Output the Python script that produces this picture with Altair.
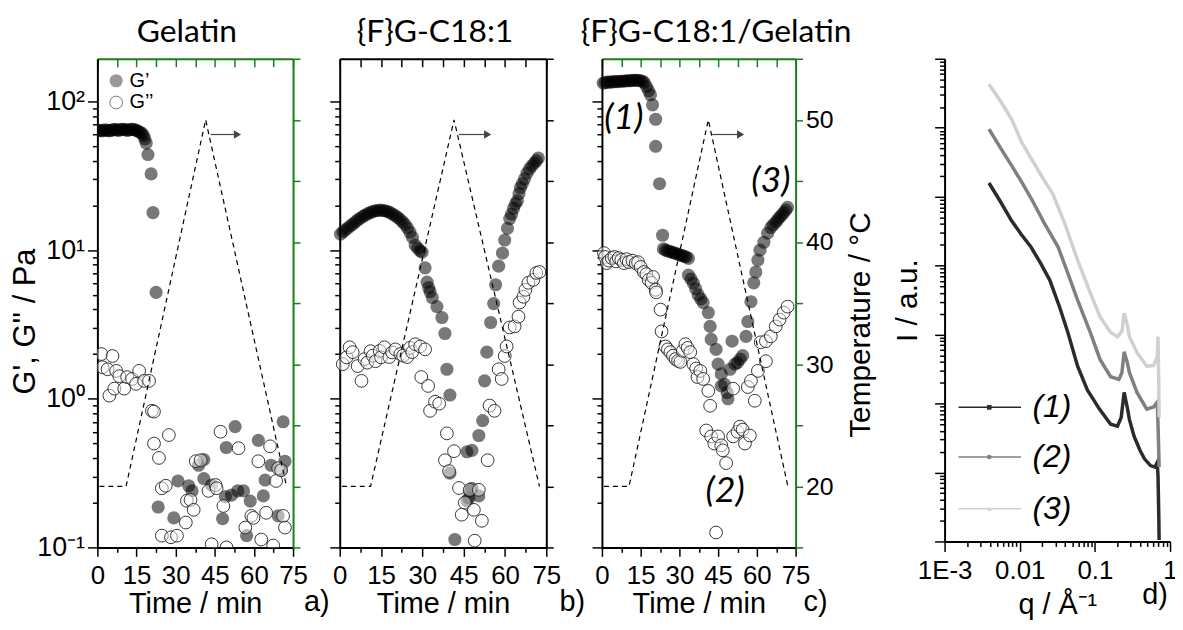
import altair as alt
import pandas as pd

# ---------------- Panel a : Gelatin ----------------
A_GP_T = [0.3, 1.0, 1.7, 2.4, 3.1, 3.8, 4.5, 5.2, 5.9, 6.6, 7.3, 8.0, 8.7, 9.4, 10.1, 10.8, 11.5, 12.2, 12.9, 13.6,
          14.3, 15.0, 15.7, 16.4, 17.1, 17.7, 18.2, 18.7, 19.4, 20.6, 21.3, 22.5,
          23.3, 29.3, 30.9, 35.0, 36.3, 38.8, 40.8, 40.8, 43.8, 48.0, 49.1, 49.4, 51.4, 52.8, 53.8, 56.0, 57.2, 58.6,
          61.7, 63.6, 64.3, 66.6, 69.3, 70.5, 71.2, 71.9]
A_GP_V = [64, 64, 63.5, 64, 64.5, 64, 63.5, 64, 64.5, 65, 64.5, 64, 64.5, 65, 65, 64.5, 64, 64.5, 65, 65,
          64.5, 64, 63, 62, 61, 59, 56, 52.5, 44, 32.6, 17.9, 5.2,
          0.187, 0.158, 0.28, 0.26, 0.24, 0.357, 0.39, 0.29, 0.263, 0.156, 0.22, 0.47, 0.225, 0.65, 0.24, 0.24, 0.12, 0.205,
          0.525, 0.222, 0.284, 0.357, 0.163, 0.33, 0.70, 0.38]
A_GPP_T = [1.5, 2.0, 3.9, 4.6, 5.8, 6.5, 7.2, 8.4, 10.3, 11.4, 13.3, 14.8, 16.0, 17.9, 19.8, 20.9, 21.7, 21.7, 23.6, 24.7,
           26.2, 27.4, 24.7, 28.2, 30.5, 33.9, 34.3, 35.7, 36.9, 37.7, 39.6, 42.6, 43.8, 45.3, 45.7, 47.2, 48.3, 49.5, 54.1, 56.7,
           59.0, 59.8, 61.7, 62.8, 64.7, 66.2, 67.4, 68.5, 69.3, 70.4, 71.2, 71.9]
A_GPP_V = [2.0, 1.63, 1.58, 1.05, 1.94, 1.17, 1.54, 1.42, 1.17, 1.40, 1.36, 1.26, 1.54, 1.32, 1.32, 0.83, 0.82, 0.50, 0.40, 0.25,
           0.26, 0.57, 0.12, 0.117, 0.12, 0.147, 0.206, 0.209, 0.179, 0.38, 0.386, 0.24, 0.105, 0.263, 0.25, 0.60, 0.19, 0.1, 0.465, 0.136,
           0.163, 0.158, 0.38, 0.113, 0.171, 0.479, 0.103, 0.28, 0.341, 0.331, 0.163, 0.136]
A_TEMP_T = [0.8, 11.0, 41.5, 72.5]
A_TEMP_V = [20, 20, 50, 20]

# ---------------- Panel b : {F}G-C18:1 ----------------
B_GP_T = [0.3, 1.2, 2.1, 3.0, 3.9, 4.8, 5.7, 6.6, 7.5, 8.4, 9.3, 10.2, 11.1, 12.0, 12.9, 13.8, 14.7, 15.6, 16.5, 17.4,
          18.3, 19.2, 20.1, 21.0, 21.9, 22.8, 23.7, 24.6, 25.5, 26.4, 27.4, 28.3, 29.2, 29.9, 31.0, 31.7, 32.3, 32.8, 33.6, 35.3,
          37.1, 38.2, 38.9, 40.0, 41.8,
          40.0, 46.2, 46.9, 47.2, 48.0, 50.5, 46.2, 48.0, 50.5, 51.9, 52.6, 53.4, 54.8, 55.9, 56.6, 57.7, 59.1, 59.9, 60.9, 61.7,
          62.4, 63.1, 63.8, 64.5, 65.1, 65.6, 66.3, 67.1, 68.0, 68.9, 69.8, 70.7, 71.4, 72.1]
B_GP_V = [12.8, 13.3, 13.7, 14.1, 14.6, 15.0, 15.5, 16.0, 16.4, 16.9, 17.2, 17.6, 17.9, 18.2, 18.4, 18.5, 18.6, 18.5, 18.4, 18.2,
          17.9, 17.5, 17.1, 16.6, 16.1, 15.5, 14.9, 14.1, 13.2, 12.2, 10.8, 10.3, 9.9, 9.7, 7.6, 6.1, 5.6, 5.25, 4.8, 4.17,
          3.52, 2.75, 1.58, 1.06, 0.113,
          0.316, 0.206, 0.215, 0.24, 0.25, 0.222, 0.44, 0.45, 0.566, 0.713, 1.32, 2.06, 3.26, 4.37, 5.85, 7.8, 9.55, 11.7, 14.0, 16.3,
          17.5, 19.1, 20.5, 21.5, 24.0, 26.3, 28.0, 30.2, 33.0, 35.2, 37.0, 38.6, 40.0, 41.7]
B_GPP_T = [1.1, 2.5, 3.6, 4.7, 6.5, 7.9, 9.0, 10.0, 11.2, 12.0, 13.0, 14.5, 15.0, 16.2, 18.0, 19.0, 20.2, 22.0, 23.0, 24.5,
           25.5, 26.3, 27.4, 29.2, 29.6, 31.0, 32.1, 32.8, 34.6, 36.1, 38.2, 38.9, 39.7, 41.5, 43.3, 44.3, 45.4, 47.2, 48.7, 49.0,
           50.5, 51.6, 53.7, 54.4, 56.2, 57.7, 58.8, 59.9, 60.6, 61.7, 63.5, 64.9, 65.3, 66.7, 67.4, 68.5, 70.3, 71.4, 72.5]
B_GPP_V = [1.71, 1.9, 2.22, 2.06, 1.66, 1.32, 1.85, 1.75, 2.09, 1.95, 1.79, 2.1, 1.9, 2.22, 1.91, 2.05, 2.15, 2.0, 1.95, 1.91,
           2.2, 2.06, 2.33, 2.25, 1.40, 2.15, 1.22, 0.83, 0.955, 0.927, 0.386, 0.585, 0.326, 0.444, 0.251, 0.166, 0.2, 0.244, 0.179, 0.111,
           0.244, 0.151, 0.386, 0.9, 0.83, 1.58, 1.36, 1.94, 2.25, 3.02, 3.07, 3.57, 4.44, 4.86, 5.41, 6.03, 6.31, 7.03, 7.13]
B_TEMP_T = [0.8, 11.2, 41.5, 72.5]
B_TEMP_V = [20, 20, 50, 20]

# ---------------- Panel c : {F}G-C18:1/Gelatin ----------------
C_GP_T = [0.5, 1.3, 2.1, 2.9, 3.7, 4.5, 5.3, 6.1, 6.9, 7.7, 8.5, 9.3, 10.1, 10.9, 11.7, 12.5, 13.3, 14.1, 14.9, 15.7,
          16.4, 17.3, 18.1, 18.8, 19.6, 20.8, 20.8, 22.3, 23.5,
          23.8, 24.6, 25.4, 26.2, 27.0, 27.8, 28.6, 29.4, 30.2, 31.0, 31.8, 32.6, 33.5,
          33.5, 34.5, 35.4, 36.3, 37.3, 38.3, 39.2, 41.2, 41.9, 42.3, 44.2, 45.0, 46.2, 46.2, 47.5, 48.5, 48.8, 49.6, 50.4, 51.5,
          52.5, 53.5, 54.5, 55.8, 56.5, 57.7, 58.8, 59.6, 60.4, 61.2, 62.7, 64.2, 65.4, 66.3, 67.3, 68.0, 68.8, 69.6, 70.4, 71.2,
          71.9]
C_GP_V = [133, 134, 135, 135, 135, 136, 136, 136, 137, 137, 137, 138, 138, 138, 139, 139, 139, 139, 138, 137,
          134, 126, 118, 111, 95, 76, 50, 28, 12.6,
          10.2, 10.0, 9.9, 9.8, 9.7, 9.6, 9.5, 9.4, 9.3, 9.2, 9.1, 9.0, 8.8,
          6.8, 6.4, 6.0, 5.5, 5.0, 4.7, 4.44, 3.8, 3.07, 2.51, 2.15, 1.71, 1.47, 1.22, 1.25, 1.1, 1.0, 1.58, 2.44, 1.71,
          1.75, 1.85, 1.95, 2.63, 3.31, 4.5, 6.03, 7.13, 8.57, 10.0, 11.3, 13.0, 14.2, 14.8, 15.4, 16.0, 16.6, 17.2, 17.9, 18.6,
          19.4]
C_GPP_T = [0.8, 1.2, 1.9, 2.7, 3.8, 4.8, 5.5, 6.5, 7.5, 8.5, 9.5, 10.4, 11.8, 13.1, 14.0, 15.0, 16.2, 17.2, 18.1, 19.2,
           19.8, 20.8, 21.0, 22.7, 23.1, 24.6, 25.5, 26.5, 27.5, 28.5, 29.5, 30.4, 31.3, 32.3, 33.2, 34.2, 35.4, 36.5, 37.0, 38.1,
           39.2, 40.4, 41.2, 41.9, 42.3, 43.5, 44.2, 45.0, 46.2, 46.8, 48.1, 50.8, 50.8, 52.5, 53.5, 54.5, 55.4, 56.5, 57.3, 57.7,
           59.2, 60.4, 61.5, 63.5, 63.5, 65.4, 67.3, 68.8, 70.4, 71.9]
C_GPP_V = [9.55, 9.0, 8.18, 8.5, 8.85, 9.0, 8.4, 8.85, 8.6, 8.18, 8.7, 8.32, 8.5, 8.18, 8.3, 7.71, 7.13, 6.9, 6.31, 6.03,
           6.6, 5.41, 5.2, 3.98, 2.84, 2.25, 2.15, 2.06, 1.95, 1.85, 1.8, 1.77, 2.1, 2.33, 2.2, 2.06, 1.71, 1.6, 1.4, 1.54,
           1.36, 0.612, 1.13, 0.897, 0.558, 0.5, 0.126, 0.558, 0.486, 0.45, 0.369, 0.558, 1.17, 0.6, 0.65, 0.62, 0.5, 1.2, 0.566, 1.32,
           0.97, 1.54, 2.4, 1.79, 2.44, 2.63, 3.07, 3.41, 3.8, 4.17]
C_TEMP_T = [0.8, 10.5, 41.2, 72.0]
C_TEMP_V = [20, 20, 50, 20]
C_NOTE_T = [8.5, 65.4, 47.7]
C_NOTE_G = [77, 29.3, 0.24]
C_NOTE_TXT = ["(1)", "(3)", "(2)"]

# shared annotations of panels a-c
ARROW_T0 = {"a": 43.4, "b": 43.3, "c": 42.7}
ARROW_T1 = 53.7
ARROW_TEMP = 48.8
TITLES = {"a": "Gelatin", "b": "{F}G-C18:1", "c": "{F}G-C18:1/Gelatin"}
TITLE_T = {"a": 34.3, "b": 34.6, "c": 44.2}
TITLE_G = 293
LETTERS = {"a": "a)", "b": "b)", "c": "c)"}
LETTER_T = {"a": 84.1, "b": 84.4, "c": 82.7}
LETTER_G = 0.043
LEG_T = 7.2
LEG_TEXT_T = 12.3
LEG_G = [138, 98.5]
LEG_TXT = ["G\u2019", "G\u2019\u2019"]
GTITLE_T = -27.4
GTITLE_G = 3.31
TEMP_TITLE_T = 100.4
TEMP_TITLE_V = 33.2

# ---------------- Panel d : SAXS ----------------
SERIES = ["(1)", "(2)", "(3)"]
SERIES_COLORS = ["#2b2b2b", "#808080", "#d0d0d0"]
D_Q1 = [0.0039, 0.0056, 0.0078, 0.0105, 0.0141, 0.0191, 0.0251, 0.0339, 0.0437, 0.0589, 0.0794, 0.115, 0.162, 0.2,
        0.224, 0.245, 0.269, 0.288, 0.331, 0.398, 0.457, 0.55, 0.631, 0.676, 0.692, 0.708, 0.716]
D_I1 = [1.58e5, 8.3e4, 4.47e4, 2.82e4, 1.86e4, 1.07e4, 6170, 2510, 1070, 347, 158, 83, 50, 47,
        63, 145, 89, 59, 34, 21, 15.8, 12.6, 12, 14, 8.9, 2.5, 1.05]
D_Q2 = [0.0039, 0.0056, 0.0078, 0.0105, 0.0141, 0.0214, 0.0324, 0.0407, 0.0589, 0.0871, 0.117, 0.162, 0.209,
        0.229, 0.245, 0.269, 0.288, 0.363, 0.49, 0.603, 0.676, 0.692, 0.708, 0.716]
D_I2 = [9.55e5, 5.01e5, 2.82e5, 1.66e5, 9.55e4, 4.07e4, 1.86e4, 9550, 3160, 1070, 437, 245, 224,
        282, 562, 398, 282, 145, 83, 89, 105, 50, 20, 12]
D_Q3 = [0.0039, 0.0056, 0.0078, 0.0105, 0.0141, 0.0214, 0.0275, 0.0398, 0.0589, 0.0871, 0.117, 0.162, 0.2,
        0.229, 0.245, 0.269, 0.288, 0.363, 0.49, 0.603, 0.676, 0.692, 0.708, 0.716]
D_I3 = [4.27e6, 2.4e6, 1.32e6, 6.31e5, 3.63e5, 1.7e5, 1.1e5, 4.07e4, 1.2e4, 3980, 1820, 1070, 933,
        1120, 2040, 1410, 933, 550, 347, 355, 479, 933, 200, 63]
D_LEG_Q = [0.00153, 0.0104]
D_LEG_QM = 0.00393
D_LEG_QT = 0.0148
D_LEG_I = [88, 16.8, 2.99]
D_LETTER_Q = 0.63
D_LETTER_I = 0.166

# ---------------- layout / style ----------------
W, H, HD = 1080, 492, 486
XR = {"a": [0, 197], "b": [244, 452], "c": [508, 703], "d": [853, 1080]}
FONT = "Liberation Sans"
TFONT = "Lato"
GREEN = "#168016"
FRAME = {"a": GREEN, "b": "black", "c": GREEN}

TIME_TICKS = [0, 7.5, 15, 22.5, 30, 37.5, 45, 52.5, 60, 67.5, 75]
TEMP_TICKS = [15, 20, 25, 30, 35, 40, 45, 50, 55]
G_TICKS = [round(m * 10.0 ** e, 6) for e in (-1, 0, 1) for m in range(1, 10)] + [100]
Q_TICKS = [round(m * 10.0 ** e, 6) for e in (-3, -2, -1) for m in range(1, 10)] + [1]
I_TICKS = [round(m * 10.0 ** e, 6) for e in range(0, 7) for m in range(1, 10)] + [1e7]

LOG_MINOR = "abs(log(datum.value)/LN10 - round(log(datum.value)/LN10)) > 0.01"
TIME_MINOR = "datum.value % 15 != 0"
TIME_LABELS = "datum.value % 15 == 0 ? datum.label : ''"
TEMP_LABELS = "datum.value % 10 == 0 ? datum.label : ''"
G_LABELS = ("datum.value == 100 ? '10\u00b2' : datum.value == 10 ? '10\u00b9' : "
            "datum.value == 1 ? '10\u2070' : datum.value == 0.1 ? '10\u207b\u00b9' : ''")
Q_LABELS = ("datum.value == 0.001 ? '1E-3' : datum.value == 0.01 ? '0.01' : "
            "datum.value == 0.1 ? '0.1' : datum.value == 1 ? '1' : ''")


def dash_cond(test, minor_len):
    return {"condition": {"test": test, "value": [minor_len, 60]}, "value": [60, 0]}


def ax(orient, **kw):
    base = dict(orient=orient, grid=False, labelFont=FONT, labelColor="black",
                titleFont=FONT, titleFontWeight="normal", titleColor="black",
                domainWidth=2, domainColor="black", tickWidth=1.5, tickColor="black",
                labelOverlap=False, labelFlush=False, title="")
    base.update(kw)
    return alt.Axis(**base)


def text_layer(df, xs, ys, **mk):
    return alt.Chart(df).mark_text(**mk).encode(
        x=alt.X("x:Q", scale=xs, axis=None),
        y=alt.Y("y:Q", scale=ys, axis=None),
        text="s:N")


def rheo_panel(p, gp_t, gp_v, gpp_t, gpp_v, temp_t, temp_v):
    first, last = p == "a", p == "c"
    frame = FRAME[p]
    xs = alt.Scale(domain=[0, 75], range=XR[p], nice=False, zero=False)
    gs = alt.Scale(type="log", domain=[0.1, 194], range=[H, 0], nice=False)
    ts = alt.Scale(domain=[15, 55], range=[H, 0], nice=False, zero=False)

    bottom = ax("bottom", values=TIME_TICKS, tickSize=9, tickDash=dash_cond(TIME_MINOR, 5),
                labelExpr=TIME_LABELS, labelFontSize=26, labelPadding=6,
                title="Time / min", titleFontSize=29, titlePadding=2)
    left = ax("left", offset=-XR[p][0], values=G_TICKS, tickSize=10, tickDash=dash_cond(LOG_MINOR, 5),
              labels=first, labelExpr=G_LABELS, labelFontSize=27, labelPadding=3)
    topline = ax("top", domainColor=frame, ticks=False, labels=False)
    topticks = ax("top", offset=-8, domain=False, values=TIME_TICKS, tickSize=8,
                  tickColor=frame, labels=False)
    right = ax("right", offset=-(W - XR[p][1]), values=TEMP_TICKS, tickSize=7, tickColor=frame,
               domainColor=frame, labels=last, labelExpr=TEMP_LABELS, labelFontSize=25,
               labelPadding=3)

    layers = []
    layers.append(alt.Chart(pd.DataFrame({"t": gp_t, "g": gp_v})).mark_circle(
        size=175, color="black", opacity=0.53, clip=True).encode(
        x=alt.X("t:Q", scale=xs, axis=bottom), y=alt.Y("g:Q", scale=gs, axis=left)))
    layers.append(alt.Chart(pd.DataFrame({"t": gpp_t, "g": gpp_v})).mark_circle(
        size=165, fill="white", fillOpacity=0.45, stroke="#222222", strokeWidth=1,
        strokeOpacity=0.9, clip=True).encode(
        x=alt.X("t:Q", scale=xs, axis=topline), y=alt.Y("g:Q", scale=gs, axis=None)))
    layers.append(alt.Chart(pd.DataFrame({"t": temp_t, "T": temp_v})).mark_line(
        color="black", strokeWidth=1.2, strokeDash=[5, 4]).encode(
        x=alt.X("t:Q", scale=xs, axis=topticks), y=alt.Y("T:Q", scale=ts, axis=right)))
    arr = pd.DataFrame({"t0": [ARROW_T0[p]], "t1": [ARROW_T1], "T": [ARROW_TEMP]})
    layers.append(alt.Chart(arr).mark_rule(color="#444444", strokeWidth=1.2).encode(
        x=alt.X("t0:Q", scale=xs, axis=None), x2="t1:Q", y=alt.Y("T:Q", scale=ts, axis=None)))
    layers.append(alt.Chart(arr).mark_point(shape="triangle-right", filled=True, size=70,
                                            color="#444444", opacity=1).encode(
        x=alt.X("t1:Q", scale=xs, axis=None), y=alt.Y("T:Q", scale=ts, axis=None)))
    layers.append(text_layer(pd.DataFrame({"x": [TITLE_T[p]], "y": [TITLE_G], "s": [TITLES[p]]}),
                             xs, gs, font=TFONT, fontSize=32, align="center", baseline="middle"))
    layers.append(text_layer(pd.DataFrame({"x": [LETTER_T[p]], "y": [LETTER_G], "s": [LETTERS[p]]}),
                             xs, gs, font=FONT, fontSize=29, align="center", baseline="middle"))
    if first:
        leg = pd.DataFrame({"t": [LEG_T, LEG_T], "g": LEG_G})
        layers.append(alt.Chart(leg.iloc[:1]).mark_circle(size=175, color="black", opacity=0.4).encode(
            x=alt.X("t:Q", scale=xs, axis=None), y=alt.Y("g:Q", scale=gs, axis=None)))
        layers.append(alt.Chart(leg.iloc[1:]).mark_circle(
            size=165, fill="white", stroke="#444444", strokeWidth=1).encode(
            x=alt.X("t:Q", scale=xs, axis=None), y=alt.Y("g:Q", scale=gs, axis=None)))
        layers.append(text_layer(pd.DataFrame({"x": [LEG_TEXT_T] * 2, "y": LEG_G, "s": LEG_TXT}),
                                 xs, gs, font=FONT, fontSize=20, align="left", baseline="middle"))
        layers.append(text_layer(pd.DataFrame({"x": [GTITLE_T], "y": [GTITLE_G],
                                               "s": ["G', G'' / Pa"]}),
                                 xs, gs, font=FONT, fontSize=31, angle=270,
                                 align="center", baseline="middle"))
    if last:
        layers.append(text_layer(pd.DataFrame({"x": C_NOTE_T, "y": C_NOTE_G, "s": C_NOTE_TXT}),
                                 xs, gs, font=TFONT, fontSize=36, fontStyle="italic",
                                 align="center", baseline="middle"))
        layers.append(text_layer(pd.DataFrame({"x": [TEMP_TITLE_T], "y": [TEMP_TITLE_V],
                                               "s": ["Temperature / \u00b0C"]}),
                                 xs, ts, font=FONT, fontSize=30, angle=270,
                                 align="center", baseline="middle"))
    return layers


def saxs_panel():
    qs = alt.Scale(type="log", domain=[0.001, 1], range=XR["d"], nice=False)
    Is = alt.Scale(type="log", domain=[1, 1e7], range=[HD, 0], nice=False)
    bottom = ax("bottom", offset=-(H - HD), values=Q_TICKS, tickSize=10, tickDash=dash_cond(LOG_MINOR, 5),
                labelExpr=Q_LABELS, labelFontSize=26, labelPadding=6,
                title="q / \u00c5\u207b\u00b9", titleFontSize=29, titlePadding=8)
    left = ax("left", offset=-XR["d"][0], values=I_TICKS, tickSize=10, tickDash=dash_cond(LOG_MINOR, 5),
              labels=False, title="I / a.u.", titleFontSize=30, titlePadding=12)
    cscale = alt.Scale(domain=SERIES, range=SERIES_COLORS)
    df = pd.concat([
        pd.DataFrame({"q": D_Q1, "i": D_I1, "s": SERIES[0]}),
        pd.DataFrame({"q": D_Q2, "i": D_I2, "s": SERIES[1]}),
        pd.DataFrame({"q": D_Q3, "i": D_I3, "s": SERIES[2]}),
    ])
    layers = [alt.Chart(df).mark_line(strokeWidth=3.5, clip=True).encode(
        x=alt.X("q:Q", scale=qs, axis=bottom), y=alt.Y("i:Q", scale=Is, axis=left),
        color=alt.Color("s:N", scale=cscale, legend=None))]
    leg_rows = []
    for s, iv in zip(SERIES, D_LEG_I):
        for qv in D_LEG_Q:
            leg_rows.append({"q": qv, "i": iv, "s": s})
    layers.append(alt.Chart(pd.DataFrame(leg_rows)).mark_line(strokeWidth=1.5).encode(
        x=alt.X("q:Q", scale=qs, axis=None), y=alt.Y("i:Q", scale=Is, axis=None),
        color=alt.Color("s:N", scale=cscale, legend=None)))
    mk = pd.DataFrame({"q": [D_LEG_QM] * 3, "i": D_LEG_I, "s": SERIES})
    layers.append(alt.Chart(mk).mark_point(filled=True, size=22, opacity=1).encode(
        x=alt.X("q:Q", scale=qs, axis=None), y=alt.Y("i:Q", scale=Is, axis=None),
        color=alt.Color("s:N", scale=cscale, legend=None),
        shape=alt.Shape("s:N", scale=alt.Scale(domain=SERIES, range=["square", "circle", "triangle-up"]),
                        legend=None)))
    layers.append(text_layer(pd.DataFrame({"x": [D_LEG_QT] * 3, "y": D_LEG_I, "s": SERIES}),
                             qs, Is, font=FONT, fontSize=32, fontStyle="italic",
                             align="left", baseline="middle"))
    layers.append(text_layer(pd.DataFrame({"x": [D_LETTER_Q], "y": [D_LETTER_I], "s": ["d)"]}),
                             qs, Is, font=FONT, fontSize=29, align="center", baseline="middle"))
    return layers


all_layers = []
all_layers += rheo_panel("a", A_GP_T, A_GP_V, A_GPP_T, A_GPP_V, A_TEMP_T, A_TEMP_V)
all_layers += rheo_panel("b", B_GP_T, B_GP_V, B_GPP_T, B_GPP_V, B_TEMP_T, B_TEMP_V)
all_layers += rheo_panel("c", C_GP_T, C_GP_V, C_GPP_T, C_GPP_V, C_TEMP_T, C_TEMP_V)
all_layers += saxs_panel()

chart = alt.layer(*all_layers).resolve_scale(x="independent", y="independent").properties(
    width=W, height=H,
    autosize=alt.AutoSizeParams(type="none"),
    padding={"left": 90, "top": 49, "right": 5, "bottom": 73},
).configure_view(stroke=None)

chart.save("out.html", embed_options={"renderer": "svg", "actions": False})
